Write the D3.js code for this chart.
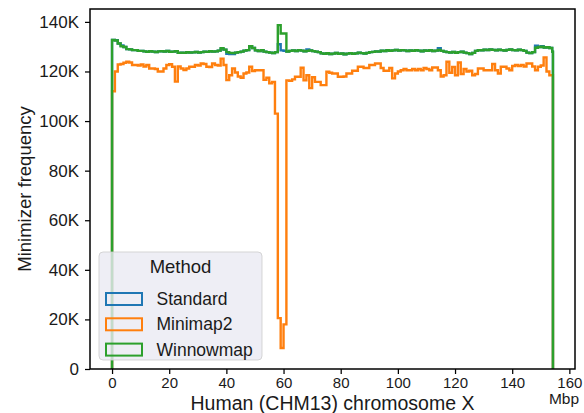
<!DOCTYPE html>
<html>
<head>
<meta charset="utf-8">
<script src="https://cdn.jsdelivr.net/npm/d3@7"></script>
<style>
  body { margin: 0; background: #fff; }
  text { font-family: "Liberation Sans", Arial, Helvetica, sans-serif; fill: #1a1a1a; }
</style>
</head>
<body>
<div id="chart"></div>
<script>
// minimizer counts per 1 Mbp bin along chrX (thousands)
var chromLen = 154.26;
var binWidth = 1;

var standard = [
  132.7, 132.6, 131.3, 130.5, 129.9, 129, 128.9, 128.6, 128.6, 128.3,
  128.3, 128.1, 127.9, 128.2, 128, 127.8, 128.1, 128.2, 128, 128.3,
  127.9, 128, 128.2, 127.5, 127.6, 127.5, 127.8, 127.6, 127.7, 127.9,
  127.6, 127.8, 128, 127.9, 128.2, 128, 128.1, 128.4, 129.2, 128.8,
  127.1, 127.0, 127.0, 127.6, 127.8, 128, 128.4, 128.6, 130.2, 129.5,
  128.5, 128.2, 128.6, 128, 127.8, 127.6, 127.4, 127.8, 131, 128.5,
  128.3, 128, 128.3, 128.5, 128.2, 128.6, 128.4, 128.1, 128.9, 128.5,
  128.2, 128, 127.8, 127.3, 127.1, 127.4, 127, 127.2, 127.5, 127.1,
  127.3, 126.9, 127.2, 127.4, 127.1, 127.3, 127.6, 127.4, 127.2, 127.5,
  127.8, 127.9, 128.1, 128, 128.4, 128.2, 128.6, 128.3, 128.5, 128.7,
  128.4, 128.6, 128.5, 128.2, 128.5, 128.3, 128.6, 128.4, 128.1, 128.5,
  128.3, 128.6, 128.2, 128.4, 129.4, 128.3, 128, 127.8, 127.6, 127.9,
  127.5, 127.8, 128, 127.6, 127.4, 127, 127.5, 128.3, 128.6, 128.5,
  128.8, 128.6, 128.9, 128.7, 128.5, 128.8, 128.6, 128.4, 128.7, 128.9,
  128.6, 128.5, 128.8, 128.6, 128.3, 127.6, 127.4, 127.8, 130.4, 129.9,
  130.2, 129.7, 129.8, 129.5, 128
];

var minimap2 = [
  112, 120, 122.8, 123, 123.5, 123.9, 123.6, 122.6, 122.6, 122.4,
  122.8, 122, 122.6, 121.2, 121.2, 121, 120, 120, 121.2, 122.6,
  122.9, 121.9, 115.9, 122, 121.2, 120.6, 121.2, 121.9, 121.9, 122.6,
  122.4, 123.2, 123, 121.9, 121.8, 123.2, 122.6, 122.4, 125.2, 122.6,
  116.5, 118.5, 121.2, 119.6, 118, 117.5, 119.2, 119.6, 121.9, 120.2,
  120.5, 120.5, 120.5, 116.6, 117.5, 115.2, 115.8, 103, 20.5, 8.5,
  18, 116.4, 116.2, 116.8, 117.9, 117.9, 121.5, 116.4, 118.5, 113.3,
  117.7, 115.8, 115.8, 114.5, 114.5, 119.9, 119.5, 119.2, 119.2, 117.9,
  117.9, 118, 119.2, 119.2, 120.3, 120.3, 121.9, 121.9, 121.4, 121.4,
  122.6, 122.6, 123.2, 123.2, 121.4, 120.3, 120.3, 121.4, 117.2, 119.2,
  120, 120.5, 121, 120.5, 120.5, 121, 120.5, 121, 120.5, 121.4,
  121, 120.5, 121.6, 121.6, 120.5, 118, 118.5, 123.9, 119.5, 121.8,
  118.5, 123.6, 119, 121, 120, 120.3, 118.5, 119, 121.2, 121.2,
  120.5, 120.5, 120.5, 123, 120.5, 119.2, 121.9, 121.9, 121.2, 120.5,
  122.2, 122.6, 122.2, 122.6, 122, 123.2, 123.2, 122, 120.5, 121.9,
  122.4, 125.7, 120, 118.5, 118.5
];

var winnowmap = [
  132.7, 132.5, 131.3, 130.2, 129.9, 129, 128.9, 128.6, 128.6, 128.3,
  128.3, 128.1, 127.9, 128.2, 128, 127.8, 128.1, 128.2, 128, 128.3,
  127.9, 128, 128.2, 127.5, 127.6, 127.5, 127.8, 127.6, 127.7, 127.9,
  127.6, 127.8, 128, 127.9, 128.2, 128, 128.1, 128.4, 129.4, 128.8,
  127.8, 127.5, 127.4, 127.6, 127.8, 128, 128.4, 128.6, 130.2, 129.5,
  128.5, 128.2, 128.6, 128, 127.8, 127.6, 127.4, 127.8, 138.7, 135.3,
  135.3, 128, 128.3, 128.5, 128.2, 128.6, 128.4, 128.1, 128.3, 128.5,
  128.2, 128, 127.8, 127.3, 127.1, 127.4, 127, 127.2, 127.5, 127.1,
  127.3, 126.9, 127.2, 127.4, 127.1, 127.3, 127.6, 127.4, 127.2, 127.5,
  127.8, 127.9, 128.1, 128, 128.4, 128.2, 128.6, 128.3, 128.5, 128.7,
  128.4, 128.6, 128.5, 128.2, 128.5, 128.3, 128.6, 128.4, 128.1, 128.5,
  128.3, 128.6, 128.2, 128.4, 128.7, 128.3, 128, 127.8, 127.6, 127.9,
  127.5, 127.8, 128, 127.6, 127.4, 127, 127.5, 128.3, 128.6, 128.5,
  128.8, 128.6, 128.9, 128.7, 128.5, 128.8, 128.6, 128.4, 128.7, 128.9,
  128.6, 128.5, 128.8, 128.6, 128.3, 127.6, 127.4, 127.8, 129.6, 129.9,
  130, 129.7, 129.8, 129.5, 128
];

var methods = ["Standard", "Minimap2", "Winnowmap"];
var colors = ["#1f77b4", "#ff7f0e", "#2ca02c"];
var xTicks = [0, 20, 40, 60, 80, 100, 120, 140, 160];
var yTicks = [0, 20, 40, 60, 80, 100, 120, 140];

var width = 584, height = 413;
var margin = {left: 90, right: 9, top: 9, bottom: 44};

var svg = d3.select("#chart").append("svg")
  .attr("width", width)
  .attr("height", height);

svg.append("rect").attr("width", width).attr("height", height).attr("fill", "#fff");

var x = d3.scaleLinear()
  .domain([-0.05 * chromLen, chromLen * 1.05])
  .range([margin.left, width - margin.right]);
var y = d3.scaleLinear()
  .domain([0, 145.2])
  .range([height - margin.bottom, margin.top]);

// turn bin counts into a step outline, like histtype='step'
function stepPoints(vals) {
  var pts = [[0, 0]];
  vals.forEach(function(v, i) {
    pts.push([i * binWidth, v]);
  });
  pts.push([chromLen, vals[vals.length - 1]]);
  pts.push([chromLen, 0]);
  return pts;
}

var line = d3.line()
  .x(function(d) { return x(d[0]); })
  .y(function(d) { return y(d[1]); })
  .curve(d3.curveStepAfter);

[standard, minimap2, winnowmap].forEach(function(vals, i) {
  svg.append("path")
    .attr("d", line(stepPoints(vals)))
    .attr("fill", "none")
    .attr("stroke", colors[i])
    .attr("stroke-width", 2.4)
    .attr("stroke-linejoin", "miter");
});

// axes
var xAxis = svg.append("g")
  .attr("transform", "translate(0," + (height - margin.bottom) + ")")
  .call(d3.axisBottom(x).tickValues(xTicks).tickSize(5).tickPadding(3));
var yAxis = svg.append("g")
  .attr("transform", "translate(" + margin.left + ",0)")
  .call(d3.axisLeft(y).tickValues(yTicks).tickSize(5).tickPadding(6)
    .tickFormat(function(d) { return d == 0 ? "0" : d + "K"; }));

[xAxis, yAxis].forEach(function(g) {
  g.select(".domain").remove();
  g.selectAll(".tick line").attr("stroke", "#000").attr("stroke-width", 1.25);
  g.selectAll(".tick text").attr("fill", "#1a1a1a")
    .style("font-family", "'Liberation Sans', Arial, sans-serif");
});
xAxis.selectAll(".tick text").attr("font-size", 15);
yAxis.selectAll(".tick text").attr("font-size", 17);

// frame
svg.append("rect")
  .attr("x", margin.left).attr("y", margin.top)
  .attr("width", width - margin.left - margin.right)
  .attr("height", height - margin.top - margin.bottom)
  .attr("fill", "none")
  .attr("stroke", "#000")
  .attr("stroke-width", 1.5);

// labels
svg.append("text")
  .attr("x", (margin.left + width - margin.right) / 2)
  .attr("y", 410)
  .attr("text-anchor", "middle")
  .attr("font-size", 19.5)
  .text("Human (CHM13) chromosome X");

svg.append("text")
  .attr("x", 564)
  .attr("y", 404)
  .attr("text-anchor", "middle")
  .attr("font-size", 15.5)
  .text("Mbp");

svg.append("text")
  .attr("transform", "translate(31," + ((margin.top + height - margin.bottom) / 2) + ") rotate(-90)")
  .attr("text-anchor", "middle")
  .attr("font-size", 18.5)
  .text("Minimizer frequency");

// legend
var legend = svg.append("g").attr("transform", "translate(99,252)");
legend.append("rect")
  .attr("width", 163).attr("height", 108)
  .attr("rx", 4)
  .attr("fill", "#eaeaf2").attr("fill-opacity", 0.8)
  .attr("stroke", "#cccccc").attr("stroke-opacity", 0.8);
legend.append("text")
  .attr("x", 81.5).attr("y", 21)
  .attr("text-anchor", "middle")
  .attr("font-size", 18.5)
  .text("Method");

methods.forEach(function(m, i) {
  var row = legend.append("g").attr("transform", "translate(0," + (41 + i * 25.3) + ")");
  row.append("rect")
    .attr("x", 7).attr("y", 0)
    .attr("width", 36).attr("height", 12)
    .attr("fill", "none")
    .attr("stroke", colors[i])
    .attr("stroke-width", 2);
  row.append("text")
    .attr("x", 57.5).attr("y", 12)
    .attr("font-size", 17.5)
    .text(m);
});
</script>
</body>
</html>
